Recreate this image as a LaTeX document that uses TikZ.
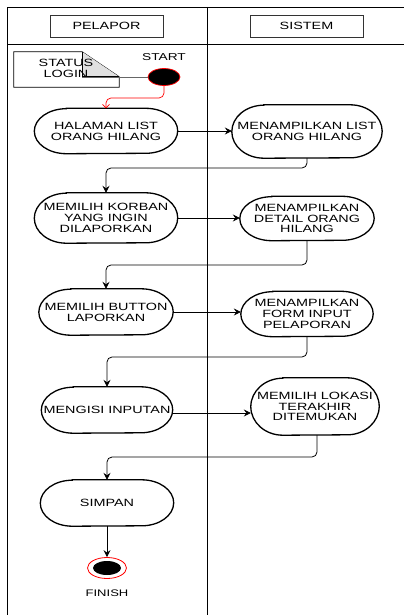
\documentclass[tikz,border=0pt]{standalone}
\usepackage{fontspec}
\setmainfont{Liberation Sans}[FakeStretch=1.37]
\usetikzlibrary{arrows.meta,calc,shapes.geometric}
\tikzset{
  acttext/.style={inner sep=0pt, align=center, font=\fontsize{10.5}{10.8}\selectfont},
  actline/.style={line width=1.3pt},
  lane/.style={line width=0.9pt},
  hdr/.style={draw=black!80, line width=0.8pt, minimum width=113pt, minimum height=22pt, inner sep=0pt, font=\fontsize{10.5}{10.8}\selectfont},
  flow/.style={line width=0.8pt, rounded corners=5pt, -{Stealth[length=7pt,width=7pt,inset=2.5pt]}},
  startflow/.style={red, line width=0.7pt, rounded corners=5pt, -{Straight Barb[length=3.5pt,width=7pt]}},
  lbl/.style={inner sep=0pt, font=\fontsize{10}{10}\selectfont},
}
\newcommand\actnode[6]{%
  \node[acttext, minimum width=#4pt, minimum height=#5pt] (#1) at (#2,#3) {#6};
  \draw[actline] ([xshift=32pt]#1.north west) -- ([xshift=-32pt]#1.north east)
    arc[start angle=90, end angle=-90, x radius=32pt, y radius=#5pt/2]
    -- ([xshift=32pt]#1.south west)
    arc[start angle=270, end angle=90, x radius=32pt, y radius=#5pt/2] -- cycle;}
\begin{document}
\begin{tikzpicture}[x=1pt, y=-1pt]
\useasboundingbox (0,0) rectangle (404,615);
% swimlanes
\draw[lane] (7,615) -- (7,7) -- (404,7);
\draw[lane] (7,44) -- (404,44);
\draw[lane] (207,7) -- (207,615);
\node[hdr] (hp) at (106.5,26) {PELAPOR};
\node[hdr] (hs) at (306.5,26) {SISTEM};
% note
\node[inner sep=0pt, minimum width=105pt, minimum height=35pt] (note) at (66.5,69.5) {};
\draw[line width=0.8pt, fill=white] (note.north west) -- ([xshift=-37pt]note.north east) -- ([yshift=-25pt]note.north east) -- (note.south east) -- (note.south west) -- cycle;
\fill[black!12] ([xshift=-37pt]note.north east) -- ([xshift=-37pt,yshift=-25pt]note.north east) -- ([yshift=-25pt]note.north east) -- cycle;
\draw[line width=0.6pt] ([xshift=-37pt]note.north east) -- ([xshift=-37pt,yshift=-25pt]note.north east) -- ([yshift=-25pt]note.north east);
\coordinate (nf) at (82,77);
% start
\node[draw=red, fill=black, ellipse, line width=0.7pt, minimum width=32pt, minimum height=17pt, inner sep=0pt] (start) at (164,77) {};
\draw[black!60, line width=0.8pt] (nf) -- (start);
\node[acttext] (notetext) at (66,68.5) {STATUS\\LOGIN};
\node[lbl] (startlbl) at (164,57.5) {START};
% activities
\actnode{n1}{106}{131}{143}{45}{HALAMAN LIST\\ORANG HILANG}
\actnode{n2}{307}{131.5}{150}{53}{MENAMPILKAN LIST\\ORANG HILANG}
\actnode{n3}{106}{218}{143}{50}{MEMILIH KORBAN\\YANG INGIN\\DILAPORKAN}
\actnode{n4}{307}{218.5}{134}{44}{MENAMPILKAN\\DETAIL ORANG\\HILANG}
\actnode{n5}{106}{312}{134}{46}{MEMILIH BUTTON\\LAPORKAN}
\actnode{n6}{307}{314}{132}{45}{MENAMPILKAN\\FORM INPUT\\PELAPORAN}
\actnode{n7}{107}{410}{131}{46}{MENGISI INPUTAN}
\actnode{n8}{315}{406.5}{128}{57}{MEMILIH LOKASI\\TERAKHIR\\DITEMUKAN}
\actnode{n9}{107}{503}{133}{46}{SIMPAN}
% finish
\node[draw=red, fill=white, ellipse, line width=0.8pt, minimum width=39pt, minimum height=21pt, inner sep=0pt] (fin) at (107,568) {};
\node[fill=black, ellipse, minimum width=28pt, minimum height=14pt, inner sep=0pt] (finin) at (107,568) {};
\node[lbl, font=\fontsize{9.5}{9.5}\selectfont] (finlbl) at (107,593.5) {FINISH};
% flows
\draw[startflow] (start.south) -- (start.south |- 0,98) -| (n1.north);
\draw[flow] (n1.east) -- (n1.east -| n2.west);
\draw[flow] (n2.south) -- (n2.south |- 0,168) -| (n3.north);
\draw[flow] (n3.east) -- (n3.east -| n4.west);
\draw[flow] (n4.south) -- (n4.south |- 0,265) -| (n5.north);
\draw[flow] (n5.east) -- (n5.east -| n6.west);
\draw[flow] (n6.south) -- (n6.south |- 0,357) -| (n7.north);
\draw[flow] ([yshift=-3pt]n7.east) -- ([yshift=-3pt]n7.east -| n8.west);
\draw[flow] ([xshift=2pt]n8.south) -- ([xshift=2pt]n8.south |- 0,457) -| (n9.north);
\draw[flow] (n9.south) -- (fin.north);
\end{tikzpicture}
\end{document}
